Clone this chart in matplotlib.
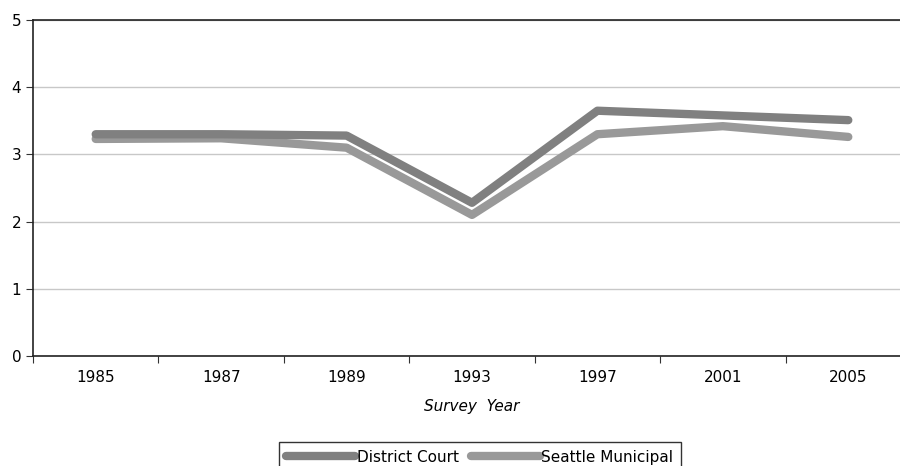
import matplotlib.pyplot as plt
import numpy as np

years = ['1985', '1987', '1989', '1993', '1997', '2001', '2005']
district = [3.30, 3.30, 3.28, 2.28, 3.65, 3.58, 3.51]
seattle = [3.23, 3.24, 3.10, 2.10, 3.30, 3.42, 3.26]

plt.rcParams['font.family'] = ['DejaVu Sans']
fig = plt.figure(figsize=(9, 4.66), dpi=100)
ax = fig.add_axes([33/900, 1-356/466, 878/900, 336/466])

x = np.arange(len(years))
ax.plot(x, seattle, color='#999999', lw=6, solid_capstyle='round', solid_joinstyle='round', label='Seattle Municipal', zorder=3)
ax.plot(x, district, color='#808080', lw=6, solid_capstyle='round', solid_joinstyle='round', label='District Court', zorder=4)

ax.set_xlim(-0.5, len(years) - 0.5)
ax.set_ylim(0, 5)
ax.set_yticks(range(6))
ax.yaxis.grid(True, color='#c8c8c8', lw=1)
ax.set_axisbelow(True)

ax.set_xticks(np.arange(-0.5, len(years), 1))
ax.set_xticklabels([])
ax.set_xticks(x, minor=True)
ax.set_xticklabels(years, minor=True)
ax.tick_params(axis='x', which='major', length=5, color='#333333')
ax.tick_params(axis='x', which='minor', length=0, labelsize=11, pad=10)
ax.tick_params(axis='y', length=5, labelsize=11, color='#333333')

for s in ['left', 'bottom', 'top']:
    ax.spines[s].set_color('#222222')
    ax.spines[s].set_linewidth(1.2)
ax.spines['right'].set_visible(False)

ax.set_xlabel('Survey  Year', fontstyle='italic', fontsize=11, labelpad=10)

h, l = ax.get_legend_handles_labels()
leg = fig.legend(h[::-1], l[::-1], loc='upper center', bbox_to_anchor=(0.533, 1-442/466),
                 ncol=2, fontsize=11, handlelength=4.5, handletextpad=0.1, columnspacing=0.8,
                 fancybox=False, framealpha=1, edgecolor='#333333', borderpad=0.5,
                 borderaxespad=0)

fig.savefig('out.png', dpi=100)
